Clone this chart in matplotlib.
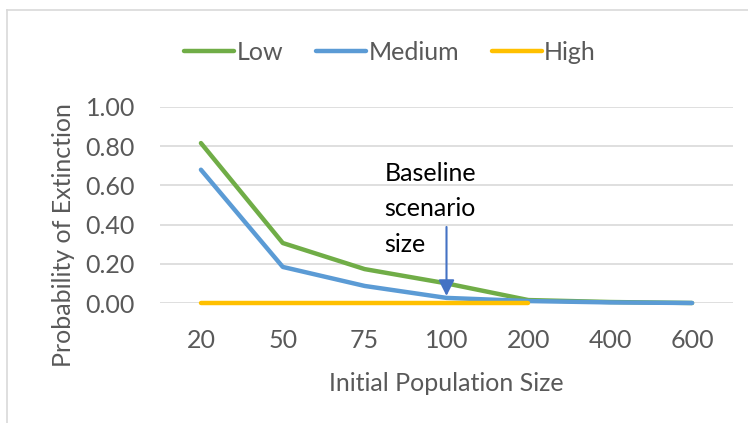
import numpy as np
import matplotlib.pyplot as plt
from matplotlib.lines import Line2D

plt.rcParams['font.family'] = ['Lato', 'DejaVu Sans']

sizes = ['20', '50', '75', '100', '200', '400', '600']
low = [0.816, 0.306, 0.173, 0.100, 0.015, 0.005, 0.0]
medium = [0.680, 0.184, 0.087, 0.026, 0.010, 0.003, 0.0]
high = [0.0, 0.0, 0.0, 0.0, 0.0]
yticks = [0.0, 0.2, 0.4, 0.6, 0.8, 1.0]

W, H = 748, 423
fig = plt.figure(figsize=(W / 100, H / 100), dpi=100)
ax = fig.add_axes([160 / W, 1 - 303 / H, 573 / W, 196 / H])

txt = '#595959'
fs = 18

x = np.arange(len(sizes))
lw = 3.2
style = dict(lw=lw, solid_capstyle='round', solid_joinstyle='round', clip_on=False)
ax.plot(x, low, color='#70AD47', label='Low', zorder=3, **style)
ax.plot(x, medium, color='#5B9BD5', label='Medium', zorder=4, **style)
ax.plot(x[:len(high)], high, color='#FFC000', label='High', zorder=5, **style)

ax.set_xlim(-0.5, len(sizes) - 0.5)
ax.set_ylim(0, 1.0)
ax.set_xticks(x)
ax.set_xticklabels(sizes)
ax.set_yticks(yticks)
ax.set_yticklabels(['%.2f' % v for v in yticks])
ax.tick_params(length=0, labelsize=fs, labelcolor=txt)
ax.tick_params(axis='x', pad=19)
ax.tick_params(axis='y', pad=18)
ax.grid(axis='y', color='#D9D9D9', lw=1.2)
ax.set_axisbelow(True)
for s in ax.spines.values():
    s.set_visible(False)

# arrow to baseline scenario
ax.annotate('', xy=(3, 0.036), xytext=(3, 0.388),
            arrowprops=dict(arrowstyle='-|>', color='#4472C4', lw=1.5, mutation_scale=24, shrinkA=0, shrinkB=0),
            zorder=6)
ax.text(2.243, 0.72, 'Baseline\nscenario\nsize', fontsize=fs, color='black', va='top', ha='left', linespacing=1.65)

fig.text(446 / W, 1 - 383 / H, 'Initial Population Size', fontsize=fs, color=txt, ha='center', va='center')
fig.text(64 / W, 1 - 235 / H, 'Probability of Extinction', fontsize=fs, color=txt, ha='center', va='center', rotation=90)

fig.legend(loc='center', bbox_to_anchor=(390 / W, 1 - 52 / H), ncol=3, frameon=False, fontsize=fs,
           labelcolor=txt, handlelength=2.0, handletextpad=0.1, columnspacing=1.3)

# chart border (only left and top are visible in the crop)
fig.add_artist(Line2D([7 / W, 7 / W], [0, 1 - 10 / H], transform=fig.transFigure, color='#D9D9D9', lw=1.2))
fig.add_artist(Line2D([7 / W, 1], [1 - 10 / H, 1 - 10 / H], transform=fig.transFigure, color='#D9D9D9', lw=1.2))

fig.savefig('out.png', dpi=100)
